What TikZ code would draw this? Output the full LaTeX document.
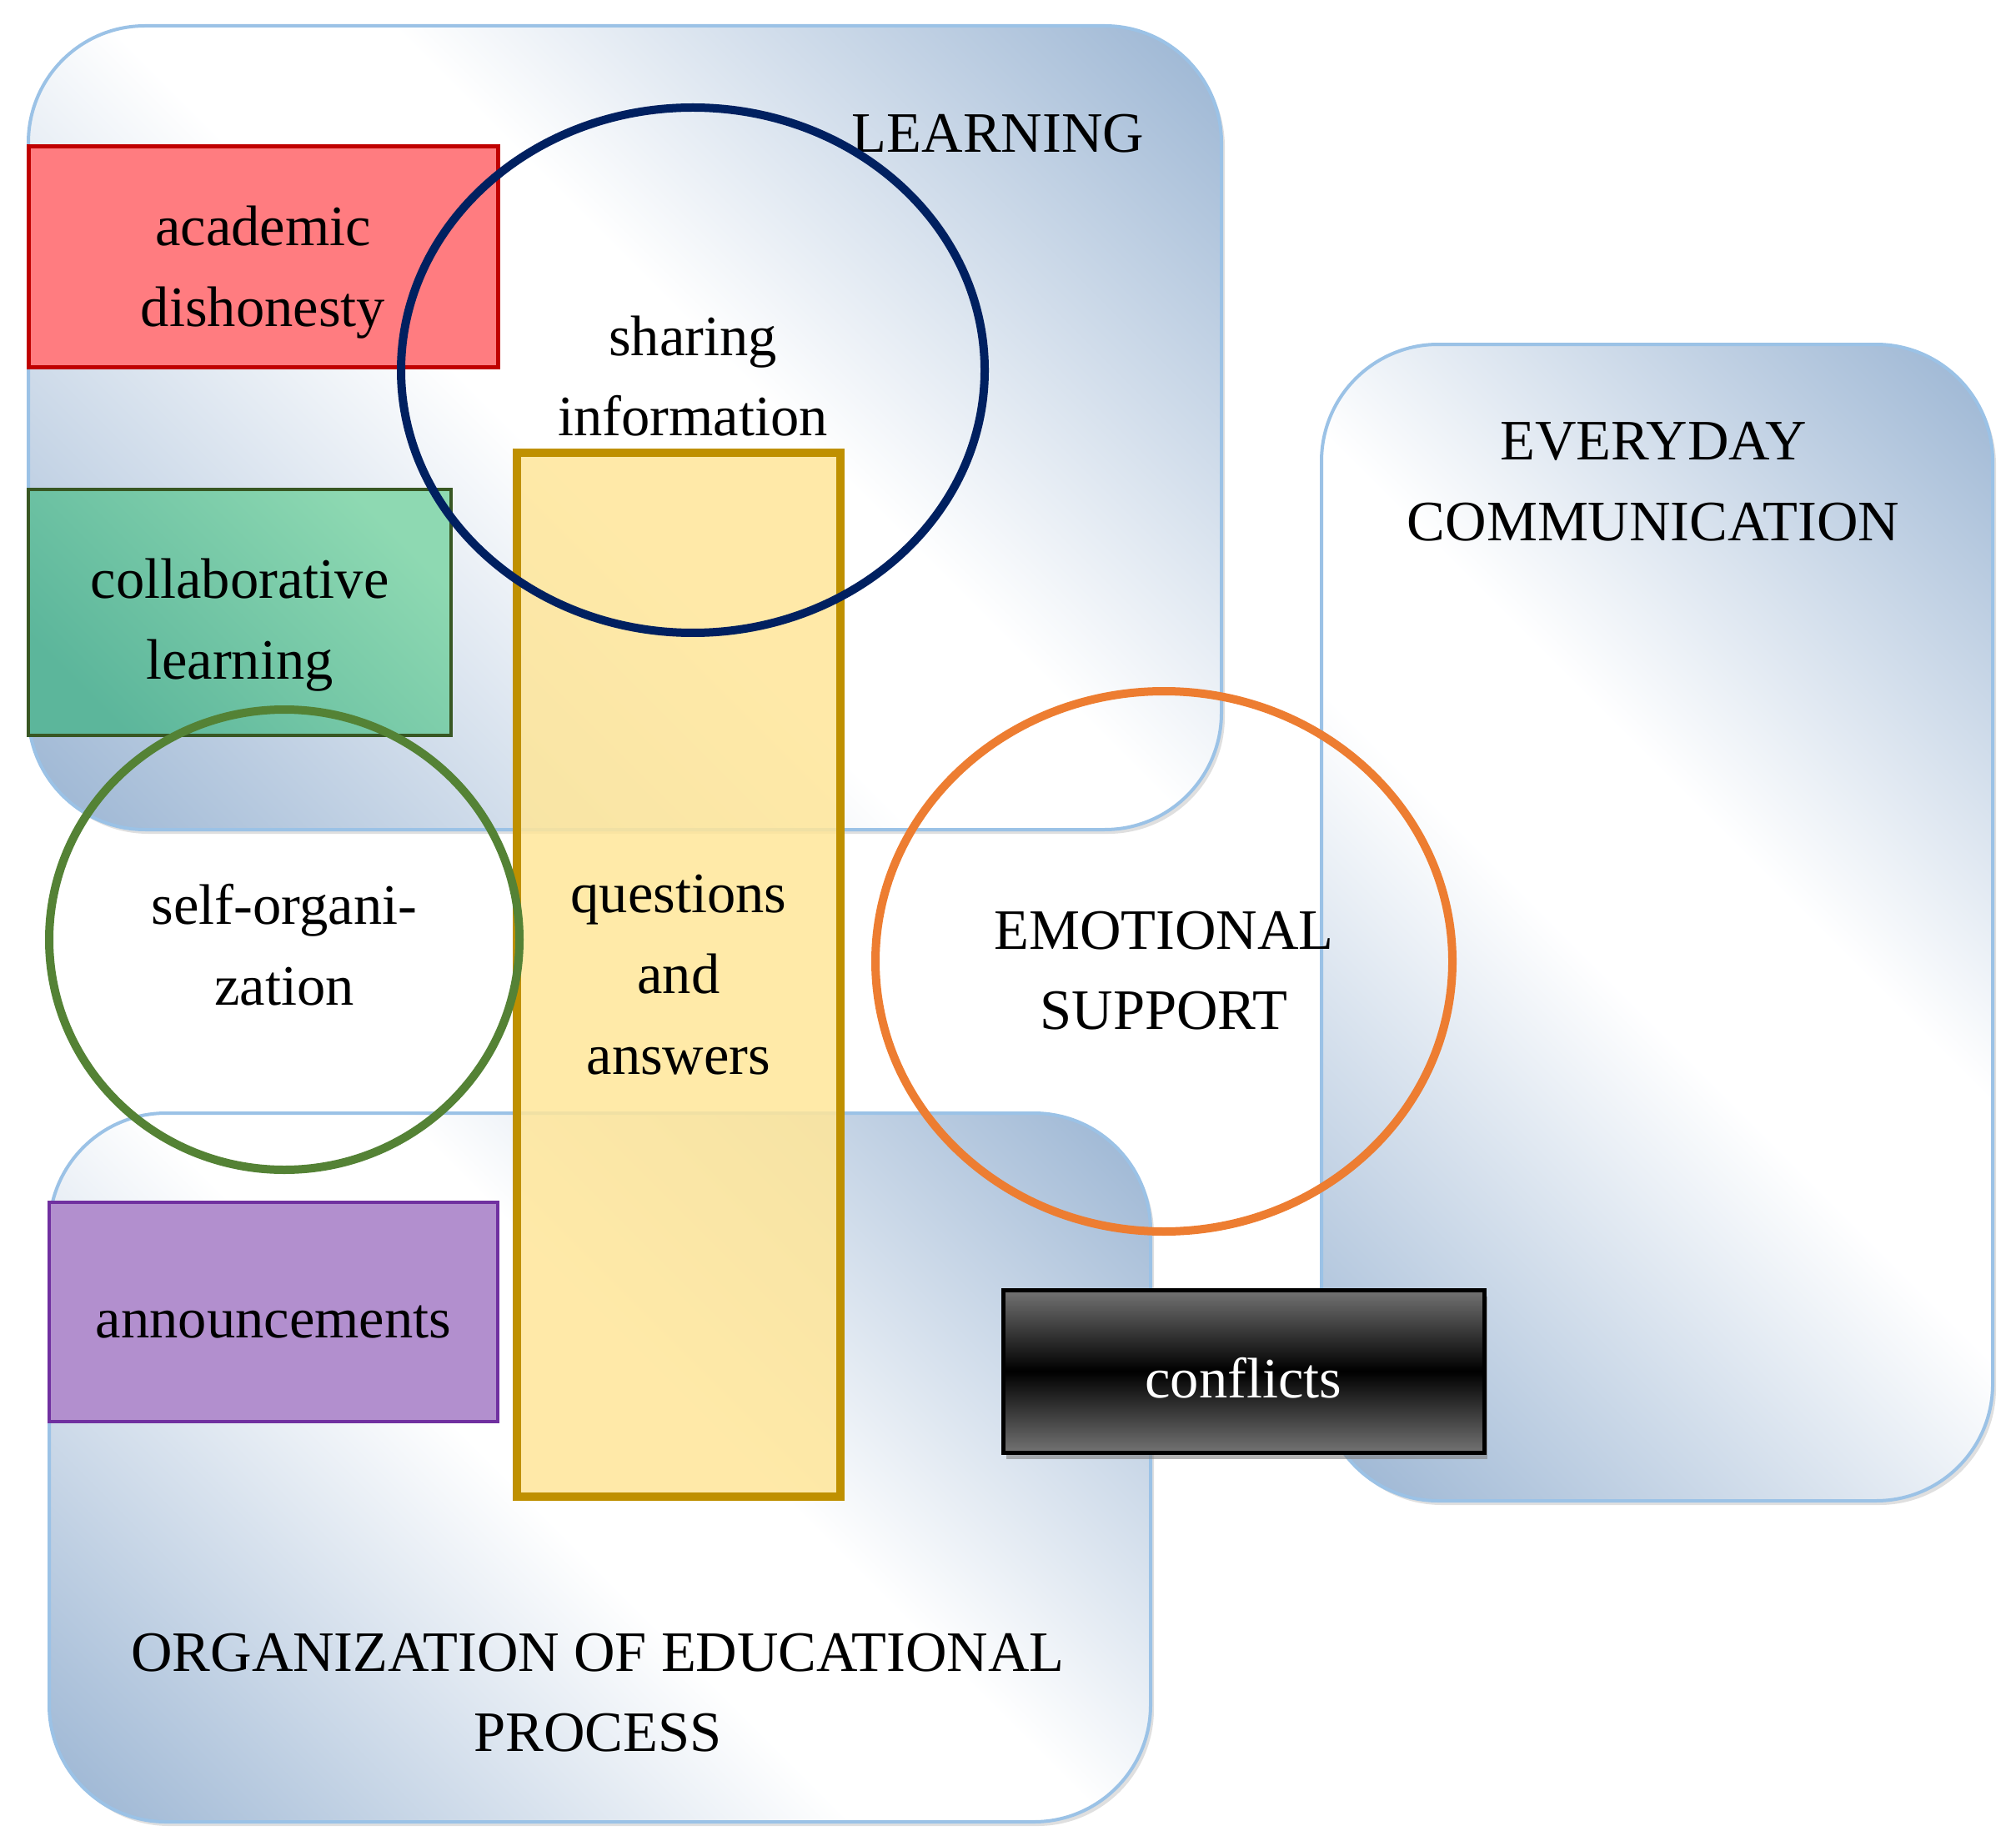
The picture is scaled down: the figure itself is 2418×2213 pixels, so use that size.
\documentclass[tikz,border=0pt]{standalone}
\usepackage{fontspec}
\setmainfont{Liberation Serif}
\usetikzlibrary{shapes.geometric,shadows}

\definecolor{boxblue}{RGB}{155,181,211}
\definecolor{boxline}{RGB}{155,194,230}
\definecolor{redfill}{RGB}{255,124,128}
\definecolor{redline}{RGB}{192,0,0}
\definecolor{greenlight}{RGB}{142,217,178}
\definecolor{greendark}{RGB}{92,182,155}
\definecolor{greenline}{RGB}{56,87,35}
\definecolor{purplefill}{RGB}{178,143,206}
\definecolor{purpleline}{RGB}{112,48,160}
\definecolor{yellowfill}{RGB}{255,230,153}
\definecolor{yellowline}{RGB}{191,144,0}
\definecolor{navyline}{RGB}{0,32,96}
\definecolor{circgreen}{RGB}{84,130,53}
\definecolor{orangeline}{RGB}{237,125,49}

\pgfdeclarehorizontalshading{boxfade}{100bp}{color(0bp)=(boxblue); color(15bp)=(boxblue); color(46bp)=(white); color(56bp)=(white); color(85bp)=(boxblue); color(100bp)=(boxblue)}

\tikzset{
  area/.style={draw=boxline, line width=0.4mm, rounded corners=14mm, shade, shading=boxfade, shading angle=45,
    drop shadow={opacity=0.25, shadow xshift=0.4mm, shadow yshift=-0.5mm}},
  tag/.style={align=center, inner sep=0pt},
  topic/.style={align=center, inner sep=0pt},
  ring/.style={ellipse, draw, line width=1mm, inner sep=0pt},
  conflictbox/.style={draw=black, line width=0.5mm, top color=black!55, bottom color=black!55, middle color=black,
    drop shadow={opacity=0.6, shadow xshift=0.4mm, shadow yshift=-0.8mm}},
}

\begin{document}
\begin{tikzpicture}[x=0.1mm, y=-0.1mm, font=\fontsize{19.5}{27.5}\selectfont]
      \useasboundingbox (0,0) rectangle (2418,2213);
      \node[area, minimum width=143.1mm, minimum height=96.4mm] (learning) at (749.5,513) {};
      \node[area, minimum width=132.1mm, minimum height=85mm] (organization) at (719.5,1760) {};
      \node[area, minimum width=80.5mm, minimum height=138.7mm] (everyday) at (1987.5,1106.5) {};
      \node[topic] (learninglabel) at (1197,160) {LEARNING};
      \node[topic] (everydaylabel) at (1983,578) {EVERYDAY\\COMMUNICATION};
      \node[topic] (organizationlabel) at (717,2030) {ORGANIZATION OF EDUCATIONAL\\PROCESS};
      \node[draw=redline, fill=redfill, line width=0.5mm, minimum width=56.3mm, minimum height=26.5mm] (dishonesty) at (315.5,308.5) {};
      \node[draw=greenline, top color=greenlight, bottom color=greendark, shading angle=-45, line width=0.4mm, minimum width=50.7mm, minimum height=29.5mm] (collaborative) at (287.5,734.5) {};
      \node[draw=purpleline, fill=purplefill, line width=0.4mm, minimum width=53.8mm, minimum height=26.3mm] (announcements) at (328,1573.5) {};
      \node[draw=yellowline, fill=yellowfill, fill opacity=0.85, line width=1mm, minimum width=38.8mm, minimum height=125.2mm] (questions) at (814,1169) {};
      \node[ring, draw=navyline, minimum width=70mm, minimum height=63mm] (sharing) at (831,444) {};
      \node[ring, draw=circgreen, minimum width=56.4mm, minimum height=55.2mm] (selforg) at (341,1127) {};
      \node[ring, draw=orangeline, minimum width=69.2mm, minimum height=64.8mm] (emotional) at (1396,1153) {};
      \node[conflictbox, minimum width=57.7mm, minimum height=19.5mm] (conflicts) at (1491.5,1644.5) {};
      \node[tag] (dishonestytext) at ([yshift=-1.8mm]dishonesty.center) {academic\\dishonesty};
      \node[tag] (collaborativetext) at ([yshift=-1.5mm]collaborative.center) {collaborative\\learning};
      \node[tag] (announcementstext) at ([yshift=-1.2mm]announcements.center) {announcements};
      \node[tag] (questionstext) at (questions.center) {questions\\and\\answers};
      \node[tag] (sharingtext) at ([yshift=-0.7mm]sharing.center) {sharing\\information};
      \node[tag] (selforgtext) at ([yshift=-0.6mm]selforg.center) {self-organi-\\zation};
      \node[tag] (emotionaltext) at ([yshift=-1.1mm]emotional.center) {EMOTIONAL\\SUPPORT};
      \node[tag, text=white] (conflictstext) at ([yshift=-0.8mm]conflicts.center) {conflicts};
    \end{tikzpicture}
\end{document}
